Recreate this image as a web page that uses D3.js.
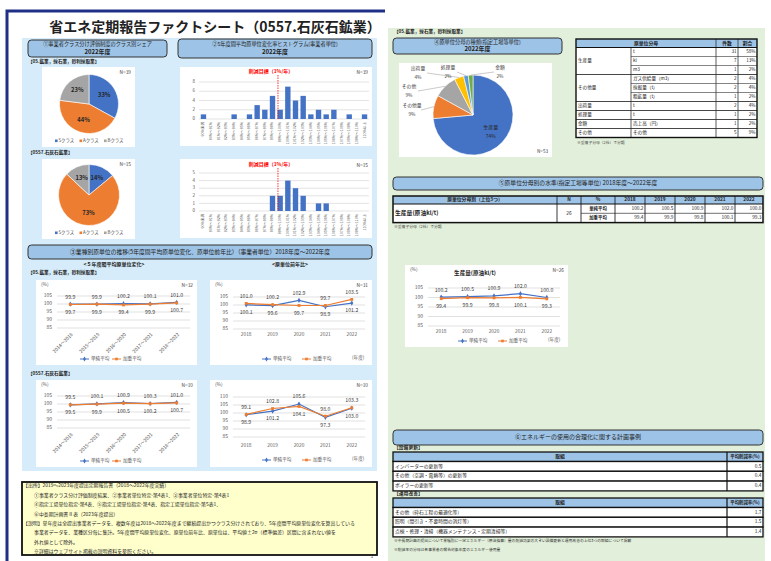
<!DOCTYPE html>
<html>
<head>
<meta charset="utf-8">
<script src="https://cdn.jsdelivr.net/npm/d3@7"></script>
<style>
  body { margin: 0; background: #fff; }
  svg { display: block; font-family: "Noto Sans CJK JP", "Noto Sans", sans-serif; }
</style>
</head>
<body>
<div id="chart"></div>
<script>
// ---------- data ----------
const classLabels = ["Sクラス", "Aクラス", "Bクラス"];
const classShare05 = [33, 44, 23];
const classShare0557 = [14, 73, 13];

const histBins = ["90%未満", "90%～91%", "91%～92%", "92%～93%", "93%～94%", "94%～95%", "95%～96%",
  "96%～97%", "97%～98%", "98%～99%", "99%～100%", "100%～101%", "101%～102%", "102%～103%",
  "103%～104%", "104%～105%", "105%～106%", "106%～107%", "107%～108%", "108%～109%", "109%～110%", "110%以上"];
const hist05 = [1, 0, 0, 0, 1, 0, 1, 3, 2, 5, 2, 7, 4, 5, 1, 2, 1, 2, 0, 1, 0, 1];
const hist0557 = [0, 0, 0, 0, 0, 0, 0, 0, 0, 2, 2, 4, 3, 2, 0, 1, 1, 0, 0, 0, 0, 0];

const periods = ["2014～2018", "2015～2019", "2016～2020", "2017～2021", "2018～2022"];
const years = ["2018", "2019", "2020", "2021", "2022"];

const avg5Simple05 = [99.9, 99.9, 100.2, 100.1, 101.0];
const avg5Weighted05 = [99.7, 99.9, 99.4, 99.9, 100.7];
const yoySimple05 = [100.1, 99.6, 102.9, 98.9, 101.2];
const yoyWeighted05 = [101.0, 100.2, 99.7, 99.7, 103.5];
const avg5Simple0557 = [99.5, 100.1, 100.9, 100.3, 101.0];
const avg5Weighted0557 = [99.5, 99.9, 100.5, 100.2, 100.7];
const yoySimple0557 = [98.9, 101.2, 105.6, 97.3, 103.0];
const yoyWeighted0557 = [99.1, 102.8, 104.1, 98.0, 103.3];

const prodSimple = [100.2, 100.5, 100.9, 102.0, 100.0];
const prodWeighted = [99.4, 99.9, 99.8, 100.1, 99.3];

const denomPieLabels = ["生産量", "その他量", "その他", "出荷量", "処理量", "金額"];
const denomPieCounts = [39, 5, 5, 2, 1, 1];

const denomGroup = ["生産量", "生産量", "生産量", "その他量", "その他量", "その他量", "出荷量", "処理量", "金額", "その他"];
const denomUnit = ["t", "kl", "m3", "ガス供給量（m3）", "採掘量（t）", "粗鉱量（t）", "t", "t", "売上高（円）", "その他"];
const denomN = [31, 7, 1, 2, 2, 1, 2, 1, 1, 5];
const denomShare = ["58%", "13%", "2%", "4%", "4%", "2%", "4%", "2%", "2%", "9%"];

const equipMeasures = ["インバーターの更新等", "その他（空調・電熱等）の更新等", "ボイラーの更新等"];
const equipRates = [0.5, 0.4, 0.4];
const opsMeasures = ["その他（砕石工程の最適化等）", "照明（間引き・不要時間の消灯等）", "点検・修理・清掃（機器メンテナンス・定期清掃等）"];
const opsRates = [1.7, 1.5, 1.4];

const notesLines = [
  "【出所】2019～2023年度提出定期報告書（2018～2022年度実績）",
  "①事業者クラス分け評価制度結果、②事業者単位特定-第4表1、③事業者単位特定-第4表1",
  "④指定工場単位指定-第4表、⑤指定工場単位指定-第4表、指定工場単位指定-第5表1、",
  "⑥中長期計画書Ⅱ表（2023年度提出）",
  "【説明】単年度は全提出事業者データを、複数年度は2018～2022年度まで継続提出かつクラス分けされており、5年度間平均原単位変化を算出している",
  "事業者データを、業種区分毎に集計。5年度間平均原単位変化、原単位前年比、原単位は、平均値±2σ（標準偏差）区間に含まれない値を",
  "外れ値として除外。",
  "※詳細はウェブサイト掲載の説明資料を参照ください。"
];
const notesIndent = [0, 1, 1, 1, 0, 1, 1, 1];

// ---------- setup ----------
const W = 771, H = 561;
const BLUE = "#4472c4", ORANGE = "#ed7d31", GRAY = "#a5a5a5";
const pieColors = [BLUE, ORANGE, GRAY, "#ffc000", "#5b9bd5", "#70ad47"];
const HEAD = "#9dc3e6";

const svg = d3.select("#chart").append("svg").attr("width", W).attr("height", H);

function txt(g, x, y, s, o = {}) {
  return g.append("text")
    .attr("x", x).attr("y", y).text(s)
    .attr("font-size", o.fs || 5)
    .attr("fill", o.fill || "#222")
    .attr("font-weight", o.fw || "normal")
    .attr("text-anchor", o.anchor || "start")
    .attr("dominant-baseline", "middle");
}

function box(g, x, y, w, h, fill, stroke, sw) {
  return g.append("rect").attr("x", x).attr("y", y).attr("width", w).attr("height", h)
    .attr("fill", fill).attr("stroke", stroke || "none").attr("stroke-width", sw || 0);
}

function header(x, y, w, h, lines, sizes) {
  const g = svg.append("g");
  g.append("rect").attr("x", x).attr("y", y).attr("width", w).attr("height", h)
    .attr("rx", 3.5).attr("fill", HEAD).attr("stroke", "#333").attr("stroke-width", 1);
  const pos = lines.length === 1 ? [0.5] : [0.29, 0.73];
  lines.forEach((t, i) => {
    txt(g, x + w / 2, y + h * pos[i], t,
      { anchor: "middle", fs: sizes[i], fw: i > 0 ? "bold" : "normal" });
  });
}

// ---------- page backgrounds ----------
box(svg, 22, 38, 355, 433, "#d6ecfa");
box(svg, 388, 28, 377, 533, "#e2efda");
svg.append("path").attr("d", "M7,561 V11 H385").attr("fill", "none")
  .attr("stroke", "#1f2f86").attr("stroke-width", 3);
txt(svg, 215, 28, "省エネ定期報告ファクトシート（0557.石灰石鉱業）", { anchor: "middle", fs: 14, fw: "bold" });
txt(svg, 372, 557, "1", { fs: 4.5, anchor: "middle" });

// ---------- section 1 & 2 ----------
header(28, 40, 139, 17, ["①事業者クラス分け評価制度のクラス別シェア", "2022年度"], [5.2, 6]);
header(178, 39, 194, 19, ["②5年度間平均原単位変化率ヒストグラム(事業者単位)", "2022年度"], [5.2, 6]);
txt(svg, 28, 62, "【05.鉱業，採石業，砂利採取業】", { fs: 4.6, fw: "bold" });
txt(svg, 28, 153, "【0557.石灰石鉱業】", { fs: 4.6, fw: "bold" });

function classPie(bx, by, cx, cy, r, values, n, labelR) {
  const g = svg.append("g");
  box(g, bx, by, 93, 80, "#fff");
  const pie = d3.pie().sort(null).value(d => d);
  const arc = d3.arc().innerRadius(0).outerRadius(r);
  const lab = d3.arc().innerRadius(r * labelR).outerRadius(r * labelR);
  const arcs = pie(values);
  const pg = g.append("g").attr("transform", `translate(${cx},${cy})`);
  pg.selectAll("path").data(arcs).join("path")
    .attr("d", arc).attr("fill", (d, i) => pieColors[i])
    .attr("stroke", "#fff").attr("stroke-width", 0.6);
  pg.selectAll("text").data(arcs).join("text")
    .attr("transform", d => `translate(${lab.centroid(d)})`)
    .attr("text-anchor", "middle").attr("dominant-baseline", "middle")
    .attr("font-size", 5.8).attr("font-weight", "bold").attr("fill", "#262626")
    .text(d => d.data + "%");
  txt(g, bx + 89, by + 6, "N=" + n, { fs: 4.8, anchor: "end", fill: "#444" });
  const lx = d3.scalePoint().domain(classLabels).range([bx + 13, bx + 62]);
  classLabels.forEach((c, i) => {
    box(g, lx(c), by + 72.5, 2.6, 2.6, pieColors[i]);
    txt(g, lx(c) + 3.5, by + 74, c, { fs: 4.4, fill: "#444" });
  });
}
classPie(42, 67, 89, 104, 29.5, classShare05, 39, 0.6);
classPie(42, 159, 89, 195, 30.5, classShare0557, 15, 0.6);

function histogram(by, values, yMax, yStep, y0, y1, n, textY) {
  const g = svg.append("g");
  box(g, 180, by, 192, 79, "#fff");
  const x = d3.scaleBand().domain(histBins).range([200, 368]).paddingInner(0.3).paddingOuter(0.1);
  const y = d3.scaleLinear().domain([0, yMax]).range([y0, y1]);
  const ticks = d3.range(0, yMax + 0.01, yStep);
  g.selectAll(".grid").data(ticks).join("line")
    .attr("x1", 199).attr("x2", 369).attr("y1", d => y(d)).attr("y2", d => y(d))
    .attr("stroke", "#d9d9d9").attr("stroke-width", 0.7);
  g.selectAll(".tick").data(ticks).join("text")
    .attr("x", 195).attr("y", d => y(d)).attr("text-anchor", "end").attr("dominant-baseline", "middle")
    .attr("font-size", 4.5).attr("fill", "#555").text(d => d);
  g.selectAll(".bar").data(values).join("rect")
    .attr("x", (d, i) => x(histBins[i])).attr("width", x.bandwidth())
    .attr("y", d => y(d)).attr("height", d => y(0) - y(d)).attr("fill", BLUE);
  g.selectAll(".lab").data(histBins).join("text")
    .attr("transform", d => `translate(${x(d) + x.bandwidth() / 2},${y0 + 3}) rotate(-90)`)
    .attr("text-anchor", "end").attr("dominant-baseline", "middle")
    .attr("font-size", 3.6).attr("fill", "#555").text(d => d);
  const rx = x(histBins[10]) + 0.5;
  g.append("line").attr("x1", rx).attr("x2", rx).attr("y1", textY + 3).attr("y2", y0)
    .attr("stroke", "#ff0000").attr("stroke-width", 0.8).attr("stroke-dasharray", "1.5,1");
  txt(g, 271, textY, "削減目標（1%/年）", { fs: 5, anchor: "middle", fill: "#ff0000", fw: "bold" });
  txt(g, 368, textY + 1, "N=" + n, { fs: 4.8, anchor: "end", fill: "#444" });
}
histogram(67, hist05, 8, 2, 119, 82, 39, 72);
histogram(159, hist0557, 5, 1, 211, 173, 15, 165);

// ---------- section 3 ----------
header(28, 245, 344, 14, ["③業種別原単位の推移(5年度間平均原単位変化、原単位前年比）（事業者単位）2018年度～2022年度"], [5.8]);
txt(svg, 114, 265, "<５年度間平均原単位変化>", { fs: 5, anchor: "middle", fw: "bold" });
txt(svg, 290, 265, "<原単位前年比>", { fs: 5, anchor: "middle", fw: "bold" });
txt(svg, 28, 273, "【05.鉱業，採石業，砂利採取業】", { fs: 4.6, fw: "bold" });
txt(svg, 28, 374, "【0557.石灰石鉱業】", { fs: 4.6, fw: "bold" });

function lineChart(o) {
  const g = svg.append("g");
  box(g, o.box[0], o.box[1], o.box[2], o.box[3], "#fff");
  const x = d3.scalePoint().domain(o.cats).range(o.xr).padding(0.5);
  const y = d3.scaleLinear().domain(o.yd).range(o.yr);
  const ticks = d3.range(o.yd[0], o.yd[1] + 0.01, 5);
  g.selectAll(".grid").data(ticks).join("line")
    .attr("x1", o.xr[0]).attr("x2", o.xr[1]).attr("y1", d => y(d)).attr("y2", d => y(d))
    .attr("stroke", "#d9d9d9").attr("stroke-width", 0.8);
  g.selectAll(".tick").data(ticks).join("text")
    .attr("x", o.xr[0] - 5).attr("y", d => y(d)).attr("text-anchor", "end").attr("dominant-baseline", "middle")
    .attr("font-size", 5).attr("fill", "#595959").text(d => d);
  if (o.rotate) {
    g.selectAll(".xl").data(o.cats).join("text")
      .attr("transform", d => `translate(${x(d) + 2},${o.xly}) rotate(-45)`)
      .attr("text-anchor", "end").attr("dominant-baseline", "middle")
      .attr("font-size", 4.8).attr("fill", "#595959").text(d => d);
  } else {
    g.selectAll(".xl").data(o.cats).join("text")
      .attr("x", d => x(d)).attr("y", o.xly).attr("text-anchor", "middle").attr("dominant-baseline", "middle")
      .attr("font-size", 4.8).attr("fill", "#595959").text(d => d);
  }
  const series = [
    { v: o.s1, c: BLUE, sym: d3.symbolDiamond, name: "単純平均" },
    { v: o.s2, c: ORANGE, sym: d3.symbolSquare, name: "加重平均" }
  ];
  const line = d3.line().x((d, i) => x(o.cats[i])).y(d => y(d));
  series.forEach(s => {
    g.append("path").datum(s.v).attr("d", line).attr("fill", "none")
      .attr("stroke", s.c).attr("stroke-width", 1.2);
    g.selectAll(null).data(s.v).join("path")
      .attr("transform", (d, i) => `translate(${x(o.cats[i])},${y(d)})`)
      .attr("d", d3.symbol(s.sym, 8)).attr("fill", s.c);
  });
  o.cats.forEach((c, i) => {
    const hi = Math.max(o.s1[i], o.s2[i]);
    const lo = Math.min(o.s1[i], o.s2[i]);
    txt(g, x(c), y(hi) - 7, hi.toFixed(1), { fs: 5.2, anchor: "middle", fill: "#404040" });
    txt(g, x(c), y(lo) + 8, lo.toFixed(1), { fs: 5.2, anchor: "middle", fill: "#404040" });
  });
  series.forEach((s, k) => {
    const lx = o.leg[k];
    g.append("line").attr("x1", lx).attr("x2", lx + 9).attr("y1", o.legY).attr("y2", o.legY)
      .attr("stroke", s.c).attr("stroke-width", 1);
    g.append("path").attr("transform", `translate(${lx + 4.5},${o.legY})`)
      .attr("d", d3.symbol(s.sym, 7)).attr("fill", s.c);
    txt(g, lx + 11, o.legY, s.name, { fs: 4.6, fill: "#595959" });
  });
  if (o.unitX) txt(g, o.unitX, o.legY - 1, "(年度)", { fs: 4.6, fill: "#595959" });
  txt(g, o.box[0] + 5, o.box[1] + 5, "(%)", { fs: 4.8, fill: "#595959" });
  txt(g, o.box[0] + o.box[2] - 4, o.box[1] + 6, "N=" + o.n, { fs: 4.8, anchor: "end", fill: "#444" });
  if (o.title) txt(g, o.title[0], o.title[1], o.title[2], { fs: 5.6, anchor: "middle", fw: "bold" });
}

lineChart({ box: [36, 280, 161, 85], cats: periods, s1: avg5Simple05, s2: avg5Weighted05,
  yd: [85, 105], yr: [328, 296], xr: [57, 190], rotate: true, xly: 334, legY: 359, leg: [80, 112], n: 32 });
lineChart({ box: [210, 280, 162, 85], cats: years, s1: yoySimple05, s2: yoyWeighted05,
  yd: [85, 105], yr: [329, 297], xr: [233, 365], rotate: false, xly: 335, legY: 359, leg: [262, 302], unitX: 352, n: 31 });
lineChart({ box: [36, 380, 161, 87], cats: periods, s1: avg5Simple0557, s2: avg5Weighted0557,
  yd: [85, 105], yr: [428, 396], xr: [57, 190], rotate: true, xly: 434, legY: 461, leg: [80, 112], n: 10 });
lineChart({ box: [210, 380, 162, 87], cats: years, s1: yoySimple0557, s2: yoyWeighted0557,
  yd: [85, 110], yr: [437, 397], xr: [233, 365], rotate: false, xly: 446, legY: 460, leg: [262, 302], unitX: 352, n: 10 });

// ---------- notes ----------
box(svg, 22, 482, 355, 73, "#ffffcc", "#111", 1.8);
notesLines.forEach((t, i) => {
  txt(svg, notesIndent[i] ? 34 : 23, 486 + i * 9.4, t, { fs: 4.9 });
});

// ---------- section 4 ----------
txt(svg, 394, 32, "【05.鉱業，採石業，砂利採取業】", { fs: 4.6, fw: "bold" });
header(393, 38, 169, 16, ["④原単位分母の種類(指定工場等単位)", "2022年度"], [5.2, 6]);
(function () {
  const g = svg.append("g");
  box(g, 399, 63, 153, 94, "#fff");
  const cx = 473, cy = 115, r = 40;
  const total = d3.sum(denomPieCounts);
  const pie = d3.pie().sort(null).value(d => d);
  const arcs = pie(denomPieCounts);
  const arc = d3.arc().innerRadius(0).outerRadius(r);
  const pg = g.append("g").attr("transform", `translate(${cx},${cy})`);
  pg.selectAll("path").data(arcs).join("path").attr("d", arc)
    .attr("fill", (d, i) => pieColors[i]).attr("stroke", "#fff").attr("stroke-width", 0.6);
  const pct = d => Math.round(d.data / total * 100) + "%";
  // inside label for the main slice
  const inner = d3.arc().innerRadius(r * 0.6).outerRadius(r * 0.6).centroid(arcs[0]);
  txt(g, cx + inner[0], cy + inner[1] - 4, denomPieLabels[0], { fs: 5, anchor: "middle", fill: "#262626" });
  txt(g, cx + inner[0], cy + inner[1] + 5, pct(arcs[0]), { fs: 5, anchor: "middle", fill: "#262626" });
  // outside labels
  const labelAt = { "その他量": [412, 106], "その他": [409, 87], "出荷量": [418, 69], "処理量": [448, 68], "金額": [500, 68] };
  const outer = d3.arc().innerRadius(r).outerRadius(r);
  arcs.slice(1).forEach((a, k) => {
    const name = denomPieLabels[k + 1];
    const p = labelAt[name];
    const c = outer.centroid(a);
    const ex = p[0] + (p[0] < cx - 20 ? 9 : -6), ey = p[1] + 4;
    g.append("polyline")
      .attr("points", `${cx + c[0]},${cy + c[1]} ${ex},${ey}`)
      .attr("fill", "none").attr("stroke", "#a6a6a6").attr("stroke-width", 0.6);
    txt(g, p[0], p[1], name, { fs: 4.8, anchor: "middle", fill: "#404040" });
    txt(g, p[0], p[1] + 9, pct(a), { fs: 4.8, anchor: "middle", fill: "#404040" });
  });
  txt(g, 548, 152, "N=" + total, { fs: 4.6, anchor: "end", fill: "#444" });
})();

// table 4
(function () {
  const g = svg.append("g");
  const x0 = 576, cw = [55, 85, 22, 19], y0 = 39, hh = 8.5, rh = 9;
  const cx = [x0, x0 + cw[0], x0 + cw[0] + cw[1], x0 + cw[0] + cw[1] + cw[2], x0 + d3.sum(cw)];
  const tw = d3.sum(cw), th = hh + rh * denomUnit.length;
  box(g, x0, y0, tw, hh, HEAD);
  box(g, x0, y0 + hh, tw, th - hh, "#fff");
  txt(g, x0 + (cw[0] + cw[1]) / 2, y0 + hh / 2, "原単位分母", { fs: 4.8, anchor: "middle", fw: "bold" });
  txt(g, (cx[2] + cx[3]) / 2, y0 + hh / 2, "件数", { fs: 4.8, anchor: "middle", fw: "bold" });
  txt(g, (cx[3] + cx[4]) / 2, y0 + hh / 2, "割合", { fs: 4.8, anchor: "middle", fw: "bold" });
  denomUnit.forEach((u, i) => {
    const yy = y0 + hh + rh * i;
    txt(g, cx[1] + 2, yy + rh / 2, u, { fs: 4.6 });
    txt(g, cx[3] - 1.5, yy + rh / 2, denomN[i], { fs: 4.6, anchor: "end" });
    txt(g, cx[4] - 1.5, yy + rh / 2, denomShare[i], { fs: 4.6, anchor: "end" });
    if (i > 0) {
      const newGroup = denomGroup[i] !== denomGroup[i - 1];
      g.append("line").attr("x1", newGroup ? x0 : cx[1]).attr("x2", x0 + tw).attr("y1", yy).attr("y2", yy)
        .attr("stroke", "#333").attr("stroke-width", newGroup ? 0.9 : 0.6);
    }
  });
  const groups = d3.groups(denomGroup.map((gname, i) => ({ gname, i })), d => d.gname);
  groups.forEach(([name, rows]) => {
    const first = rows[0].i, last = rows[rows.length - 1].i;
    const ym = y0 + hh + rh * (first + last + 1) / 2;
    txt(g, x0 + 2, ym, name, { fs: 4.6 });
  });
  cx.slice(1, 4).forEach((xx, k) => {
    g.append("line").attr("x1", xx).attr("x2", xx).attr("y1", k === 0 ? y0 + hh : y0).attr("y2", y0 + th)
      .attr("stroke", "#333").attr("stroke-width", 0.8);
  });
  g.append("line").attr("x1", x0).attr("x2", x0 + tw).attr("y1", y0 + hh).attr("y2", y0 + hh)
    .attr("stroke", "#111").attr("stroke-width", 1.2);
  box(g, x0, y0, tw, th, "none", "#111", 1.4);
  txt(g, 577, 143, "※重複子分母（2社）で分類", { fs: 3.8, fill: "#444" });
})();

// ---------- section 5 ----------
header(393, 177, 370, 13, ["⑤原単位分母別の水準(指定工場等単位) 2018年度～2022年度"], [5.8]);
(function () {
  const g = svg.append("g");
  const x0 = 393, cw = [164, 24, 34, 30, 30, 30, 30, 28], y0 = 196, hh = 8, rh = 9.3;
  const cx = [x0];
  cw.forEach(w => cx.push(cx[cx.length - 1] + w));
  const tw = d3.sum(cw);
  box(g, x0, y0, tw, hh, HEAD);
  box(g, x0, y0 + hh, tw, rh * 2, "#fff");
  const heads = ["原単位分母別（上位3つ）", "N", "%"].concat(years);
  heads.forEach((h, i) => txt(g, (cx[i] + cx[i + 1]) / 2, y0 + hh / 2, h, { fs: 4.8, anchor: "middle", fw: "bold" }));
  txt(g, x0 + 2, y0 + hh + rh, "生産量(原油kl/t)", { fs: 5.8, fw: "bold" });
  txt(g, (cx[1] + cx[2]) / 2, y0 + hh + rh, "26", { fs: 4.8, anchor: "middle" });
  [["単純平均", prodSimple], ["加重平均", prodWeighted]].forEach(([name, vals], r) => {
    const ym = y0 + hh + rh * r + rh / 2;
    txt(g, (cx[2] + cx[3]) / 2, ym, name, { fs: 4.4, anchor: "middle", fw: "bold" });
    vals.forEach((v, i) => txt(g, cx[i + 4] - 1.5, ym, v.toFixed(1), { fs: 4.8, anchor: "end" }));
  });
  g.append("line").attr("x1", cx[2]).attr("x2", x0 + tw).attr("y1", y0 + hh + rh).attr("y2", y0 + hh + rh)
    .attr("stroke", "#333").attr("stroke-width", 0.7);
  cx.slice(1, -1).forEach(xx => g.append("line").attr("x1", xx).attr("x2", xx).attr("y1", y0).attr("y2", y0 + hh + rh * 2)
    .attr("stroke", "#222").attr("stroke-width", 0.9));
  g.append("line").attr("x1", x0).attr("x2", x0 + tw).attr("y1", y0 + hh).attr("y2", y0 + hh)
    .attr("stroke", "#111").attr("stroke-width", 1.2);
  box(g, x0, y0, tw, hh + rh * 2, "none", "#111", 1.5);
  txt(g, 394, 227, "※重複子分母（2社）で分類", { fs: 3.8, fill: "#444" });
})();

lineChart({ box: [405, 265, 163, 82], cats: years, s1: prodSimple, s2: prodWeighted,
  yd: [85, 105], yr: [326, 288], xr: [428, 560], rotate: false, xly: 332, legY: 341, leg: [458, 498], unitX: 548, n: 26,
  title: [475, 273, "生産量(原油kl/t)"] });

// ---------- section 6 ----------
header(393, 430, 370, 15, ["⑥エネルギーの使用の合理化に関する計画事例"], [6]);
function measureTable(y0, label, measures, rates) {
  const g = svg.append("g");
  const x0 = 393, w1 = 334, w2 = 36, hh = 9.5, rh = 9.8;
  txt(g, 394, y0 - 4, label, { fs: 4.8, fw: "bold" });
  box(g, x0, y0, w1 + w2, hh, HEAD, "#111", 1.3);
  txt(g, x0 + w1 / 2, y0 + hh / 2, "取組", { fs: 4.8, anchor: "middle", fw: "bold" });
  txt(g, x0 + w1 + w2 / 2, y0 + hh / 2, "平均削減率(%)", { fs: 4.4, anchor: "middle", fw: "bold" });
  measures.forEach((m, i) => {
    const yy = y0 + hh + rh * i;
    box(g, x0, yy, w1 + w2, rh, "#fff", "#111", 1.3);
    txt(g, x0 + 2, yy + rh / 2, m, { fs: 4.8 });
    txt(g, x0 + w1 + w2 - 1.5, yy + rh / 2, rates[i].toFixed(1), { fs: 4.8, anchor: "end" });
  });
  g.append("line").attr("x1", x0 + w1).attr("x2", x0 + w1).attr("y1", y0).attr("y2", y0 + hh + rh * measures.length)
    .attr("stroke", "#111").attr("stroke-width", 1.2);
}
measureTable(452, "【設備更新】", equipMeasures, equipRates);
measureTable(498, "【運用改善】", opsMeasures, opsRates);
txt(svg, 394, 541, "※中長期計画の提出について業種別に一定エネルギー（原油換算）量の削減効果の大きい設備更新と運用改善の上位3つの取組について掲載", { fs: 3.8, fill: "#333" });
txt(svg, 394, 550, "※削減率の分母は各事業者の報告対象年度のエネルギー使用量", { fs: 3.8, fill: "#333" });
</script>
</body>
</html>
